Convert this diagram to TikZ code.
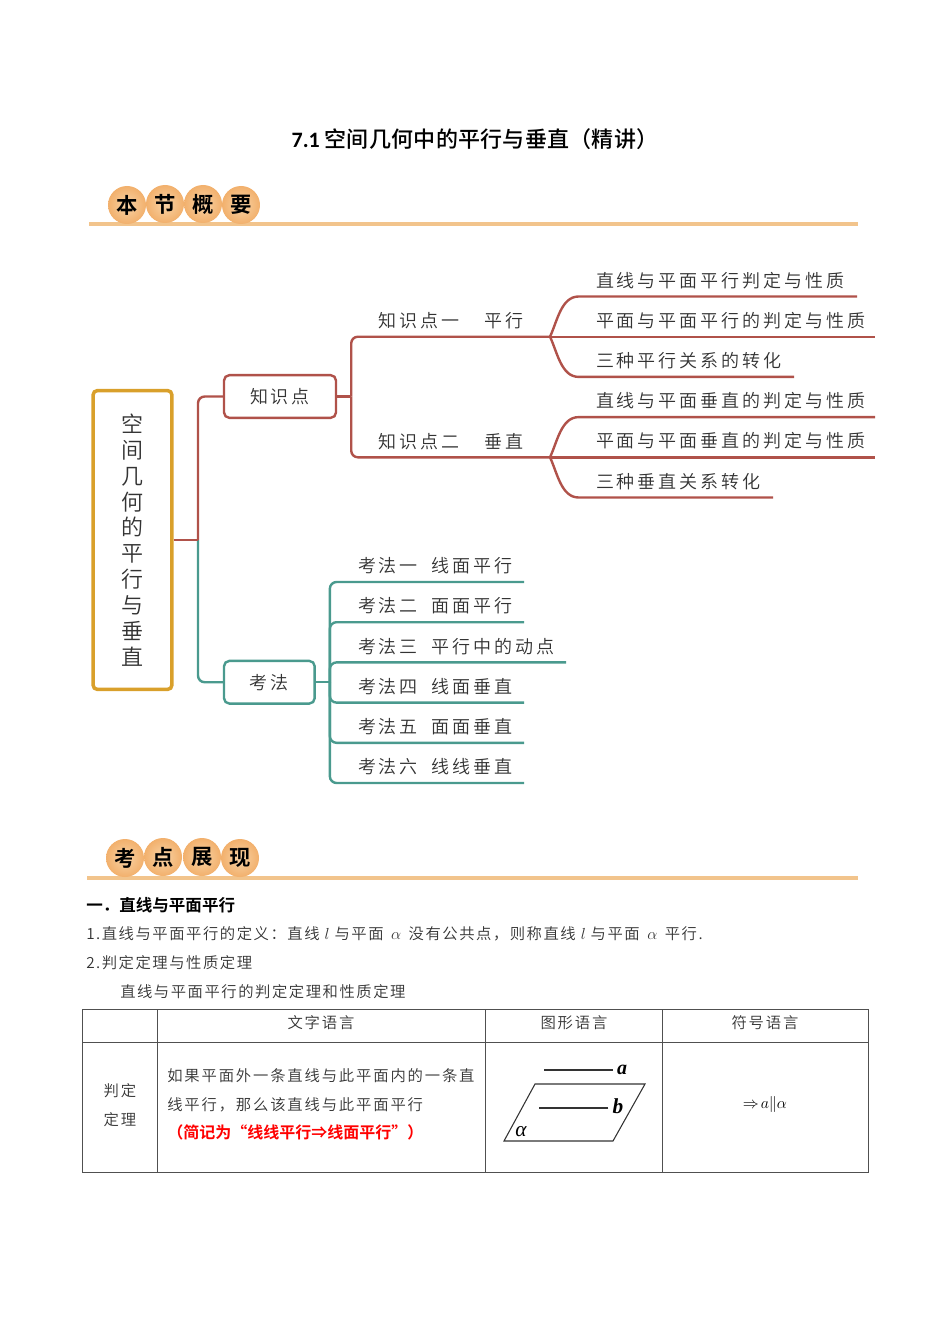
\documentclass[tikz,border=0pt]{standalone}
\usepackage{fontspec}
\usetikzlibrary{calc,positioning}
\setmainfont{Noto Sans CJK SC}
\newfontfamily\mapfont[LetterSpace=16.5]{Noto Sans CJK SC DemiLight}
\newfontfamily\rootfont{Noto Sans CJK SC DemiLight}
\newfontfamily\bodyfont[LetterSpace=10]{Noto Sans CJK SC DemiLight}
\newfontfamily\cellfont[LetterSpace=12]{Noto Sans CJK SC DemiLight}
\newfontfamily\headfont{Noto Sans CJK SC Bold}
\newfontfamily\titlefont[LetterSpace=1.2]{Noto Sans CJK SC Medium}
\newfontfamily\numfont{Carlito}
\newfontfamily\figfont{Liberation Serif}
\definecolor{mapred}{HTML}{B0524A}
\definecolor{mapteal}{HTML}{4A9A8E}
\definecolor{rootgold}{HTML}{D9A02B}
\definecolor{ruleorange}{HTML}{F2C48C}
\definecolor{ballin}{HTML}{F8D3A6}
\definecolor{ballout}{HTML}{F2B06C}
\definecolor{inkgrey}{HTML}{333333}
\definecolor{tablegrey}{HTML}{505050}
\begin{document}
\begin{tikzpicture}[
  x=0.75pt, y=-0.75pt,
  ball/.style={circle, minimum size=28.5pt, inner sep=0pt, shading=radial, inner color=ballin, outer color=ballout, font=\headfont\fontsize{16}{18}\selectfont},
  rootbox/.style={draw=rootgold, line width=2.6pt, rounded corners=3pt, minimum width=59pt, minimum height=224pt, align=center, text=inkgrey, font=\rootfont\fontsize{16.5}{19.4}\selectfont},
  branch/.style={rounded corners=4pt, line width=1.8pt, minimum height=32pt, text=inkgrey, font=\mapfont\fontsize{13.5}{16}\selectfont},
  leaf/.style={inner sep=0pt, outer sep=0pt, text width=#1, text height=23.15pt, text depth=7pt, align=left, text=inkgrey, font=\mapfont\fontsize{13.5}{16}\selectfont},
  topic/.style={inner sep=0pt, anchor=base west, text=inkgrey, font=\mapfont\fontsize{13.5}{16}\selectfont},
  redline/.style={draw=mapred, line width=1.8pt, rounded corners=5pt},
  tealline/.style={draw=mapteal, line width=1.8pt, rounded corners=5pt},
  curveline/.style={draw=mapred, line width=1.8pt, sharp corners},
  body/.style={inner sep=0pt, anchor=base west, text=inkgrey, font=\bodyfont\fontsize{11.5}{14}\selectfont},
  cell/.style={inner sep=0pt, text=inkgrey, font=\cellfont\fontsize{11.5}{14}\selectfont}
  ]
  \useasboundingbox (0,0) rectangle (950,1344);

  \node[anchor=base, text=black, font=\fontsize{16.5}{20}\selectfont] (title) at (475,148) {{\numfont\bfseries 7.1} {\titlefont 空间几何中的平行与垂直（精讲）}};

  % section bars
  \draw[ruleorange, line width=2.5pt] (89,224) -- (858,224);
  \node[ball] (s1) at (127,205) {本};
  \node[ball] (s2) at (165,204) {节};
  \node[ball] (s3) at (203,204) {概};
  \node[ball] (s4) at (241,205) {要};

  \draw[ruleorange, line width=2.5pt] (87,878) -- (858,878);
  \node[ball] (p1) at (125,858) {考};
  \node[ball] (p2) at (163,857) {点};
  \node[ball] (p3) at (202,857) {展};
  \node[ball] (p4) at (240,858) {现};

  % mind map
  \node[rootbox] (root) at (132.5,540) {空\\间\\几\\何\\的\\平\\行\\与\\垂\\直};
  \node[branch, draw=mapred, minimum width=84pt] (zsd) at (280,396.5) {知识点};
  \node[branch, draw=mapteal, minimum width=68pt, below=180.5pt of zsd.south west, anchor=north west] (kf) {考法};
  \coordinate (T) at (198,540);
  \coordinate[right=10.5pt of zsd] (J1);
  \coordinate[right=10.5pt of kf] (J2);

  \node[topic] (d1) at (378,327) {知识点一\hspace{19pt}平行};
  \node[topic] (d2) at (378,448) {知识点二\hspace{19pt}垂直};

  \node[leaf=195.75pt, anchor=south west] (a1) at (596,296.5) {直线与平面平行判定与性质};
  \node[leaf=209.25pt, below=0pt of a1.south west, anchor=north west] (a2) {平面与平面平行的判定与性质};
  \node[leaf=148.5pt, below=0pt of a2.south west, anchor=north west] (a3) {三种平行关系的转化};
  \node[leaf=209.25pt, below=0pt of a3.south west, anchor=north west] (b1) {直线与平面垂直的判定与性质};
  \node[leaf=209.25pt, below=0pt of b1.south west, anchor=north west] (b2) {平面与平面垂直的判定与性质};
  \node[leaf=132.75pt, below=0pt of b2.south west, anchor=north west] (b3) {三种垂直关系转化};
  \coordinate (H1) at (550,0 |- a2.south);
  \coordinate (H2) at (550,0 |- b2.south);

  \node[leaf=124.5pt, anchor=south west] (k1) at (358,582) {考法一\hspace{10pt}线面平行};
  \node[leaf=124.5pt, below=0pt of k1.south west, anchor=north west] (k2) {考法二\hspace{10pt}面面平行};
  \node[leaf=156pt, below=0pt of k2.south west, anchor=north west] (k3) {考法三\hspace{10pt}平行中的动点};
  \node[leaf=124.5pt, below=0pt of k3.south west, anchor=north west] (k4) {考法四\hspace{10pt}线面垂直};
  \node[leaf=124.5pt, below=0pt of k4.south west, anchor=north west] (k5) {考法五\hspace{10pt}面面垂直};
  \node[leaf=124.5pt, below=0pt of k5.south west, anchor=north west] (k6) {考法六\hspace{10pt}线线垂直};

  \draw[tealline] (T) |- (kf);
  \draw[redline] (T) |- (zsd);
  \draw[redline] (root) -- (T);

  \draw[redline] (zsd) -- (J1);
  \draw[redline] (J1) |- (H1);
  \draw[redline] (J1) |- (H2);

  \draw[curveline] (H1) -- (a2.south east);
  \draw[curveline] (H1) to[out=65,in=180,looseness=0.9] ([xshift=-13pt]a1.south west) -- (a1.south east);
  \draw[curveline] (H1) to[out=-65,in=180,looseness=0.9] ([xshift=-13pt]a3.south west) -- (a3.south east);
  \draw[curveline] (H2) -- (b2.south east);
  \draw[curveline] (H2) to[out=65,in=180,looseness=0.9] ([xshift=-13pt]b1.south west) -- (b1.south east);
  \draw[curveline] (H2) to[out=-65,in=180,looseness=0.9] ([xshift=-13pt]b3.south west) -- (b3.south east);

  \draw[tealline] (kf) -- (J2);
  \draw[tealline] (J2) |- (k1.south west) -- (k1.south east);
  \draw[tealline] (J2) |- (k2.south west) -- (k2.south east);
  \draw[tealline] (J2) |- (k3.south west) -- (k3.south east);
  \draw[tealline] (J2) |- (k4.south west) -- (k4.south east);
  \draw[tealline] (J2) |- (k5.south west) -- (k5.south east);
  \draw[tealline] (J2) |- (k6.south west) -- (k6.south east);

  % text below the map
  \node[body, font=\headfont\fontsize{12.4}{14}\selectfont, text=black] (h1) at (86,911) {一．直线与平面平行};
  \node[body] (t1) at (86,939.5) {1.直线与平面平行的定义：直线 $l$ 与平面 \,$\alpha$\, 没有公共点，则称直线 $l$ 与平面 \,$\alpha$\, 平行.};
  \node[body] (t2) at (86,968.5) {2.判定定理与性质定理};
  \node[body] (t3) at (120,997.5) {直线与平面平行的判定定理和性质定理};

  % table
  \draw[tablegrey, line width=0.7pt] (82,1009) rectangle (868,1172);
  \draw[tablegrey, line width=0.7pt] (82,1042) -- (868,1042);
  \draw[tablegrey, line width=0.7pt] (157,1009) -- (157,1172);
  \draw[tablegrey, line width=0.7pt] (485,1009) -- (485,1172);
  \draw[tablegrey, line width=0.7pt] (662,1009) -- (662,1172);

  \node[cell] (c1) at (321,1023) {文字语言};
  \node[cell] (c2) at (574,1023) {图形语言};
  \node[cell] (c3) at (765,1023) {符号语言};
  \node[cell] (r1) at (120,1091) {判定};
  \node[cell] (r2) at (120,1120) {定理};
  \node[cell, anchor=base west] (l1) at (167,1081.5) {如果平面外一条直线与此平面内的一条直};
  \node[cell, anchor=base west] (l2) at (167,1110.5) {线平行，那么该直线与此平面平行};
  \node[cell, anchor=base west, text=red, font=\headfont\fontsize{12}{14}\selectfont] (l3) at (167,1138.5) {（简记为“线线平行⇒线面平行”）};
  \node[cell, text=black, font=\fontsize{11.5}{14}\selectfont] (sym) at (765,1104) {$\Rightarrow\!a\|\alpha$};

  % plane figure
  \draw[inkgrey, line width=0.8pt] (535,1084) -- (645,1084) -- (613,1141) -- (504,1141) -- cycle;
  \node[inner sep=0pt, font=\figfont\bfseries\itshape\fontsize{15}{16}\selectfont] (la) at (622,1070) {a};
  \node[inner sep=0pt, font=\figfont\bfseries\itshape\fontsize{16}{16}\selectfont] (lb) at (618,1106) {b};
  \node[inner sep=0pt, font=\figfont\itshape\fontsize{16}{16}\selectfont] (lalpha) at (521,1132) {α};
  \draw[inkgrey, line width=0.8pt] (la.west) ++(-4,0) -- ++(-69,0);
  \draw[inkgrey, line width=0.8pt] (lb.west) ++(-4,2) -- ++(-69,0);
\end{tikzpicture}
\end{document}
